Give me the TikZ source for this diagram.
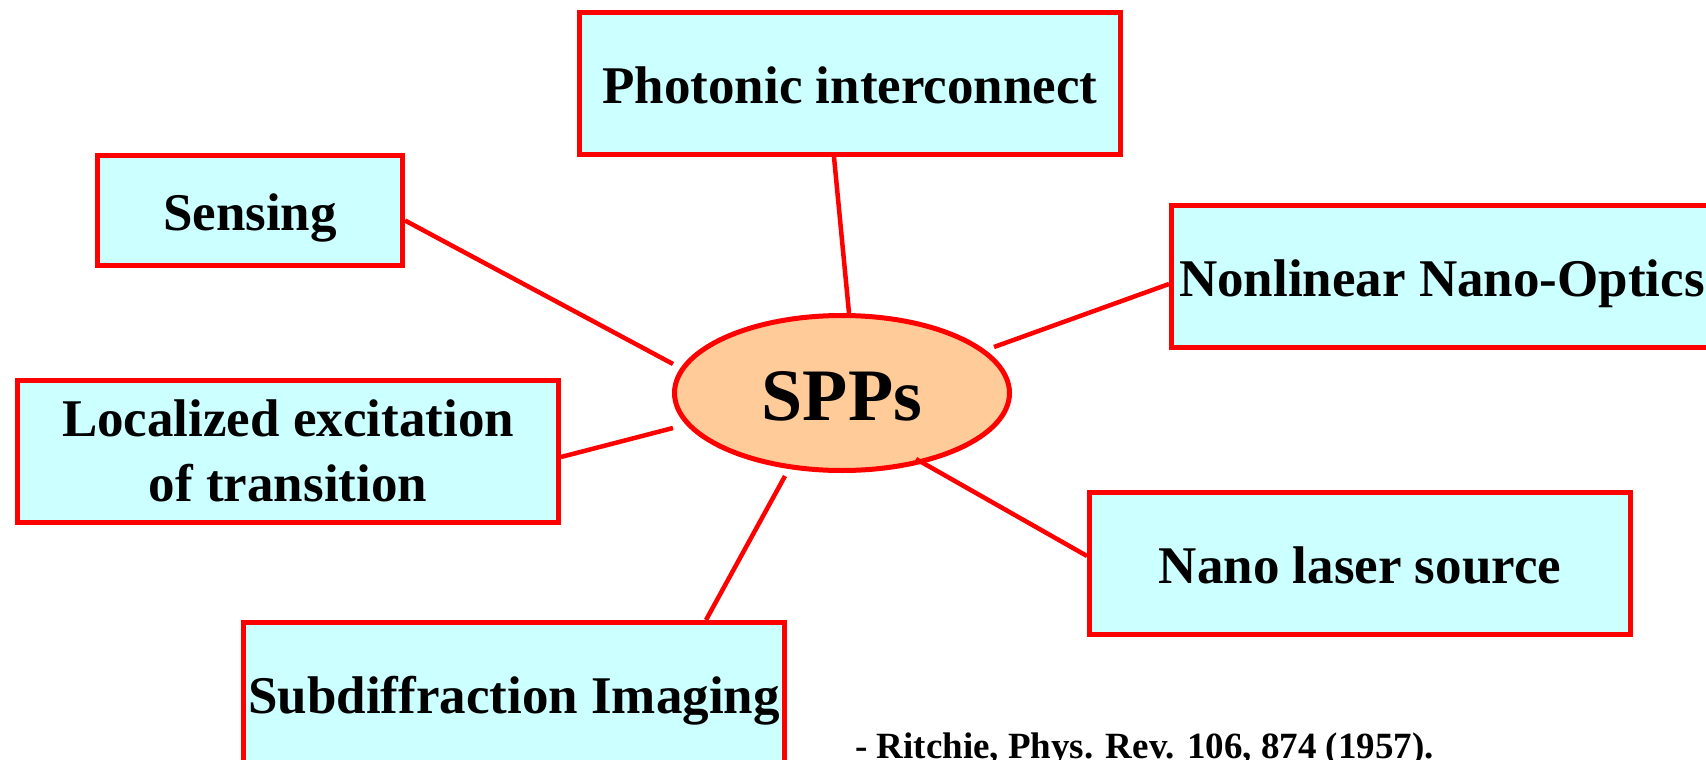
\documentclass[tikz,border=0pt]{standalone}
\usepackage{fontspec}
\setmainfont{Liberation Serif}
\usetikzlibrary{shapes.geometric,calc}
\definecolor{boxfill}{HTML}{CCFFFF}
\definecolor{ellfill}{HTML}{FFCC99}
\definecolor{lred}{HTML}{FF0000}
\tikzset{
  topic/.style={draw=lred, fill=boxfill, line width=5pt, inner sep=0pt,
    minimum width=541pt, minimum height=142pt,
    font=\fontsize{53}{65}\selectfont\bfseries},
  oneline/.style={text height=40pt, text depth=0pt},
  hub/.style={ellipse, draw=lred, fill=ellfill, line width=5pt, inner sep=0pt,
    minimum width=335pt, minimum height=155pt,
    font=\fontsize{74}{80}\selectfont\bfseries, text height=54pt, text depth=0pt},
  link/.style={draw=lred, line width=4.5pt},
}
\begin{document}
\begin{tikzpicture}[x=1pt, y=-1pt]
\useasboundingbox (0,0) rectangle (1706,760);
\clip (0,0) rectangle (1706,760);
\fill[white] (0,0) rectangle (1706,760);

\node[hub] (spp) at (842,393) {SPPs};

\node[topic, oneline] (ph) at (850,83.5) {Photonic interconnect};
\node[topic, oneline, minimum width=305pt, minimum height=110pt] (sens) at (250,210.5) {Sensing};
\node[topic, oneline] (nl) at (1442,276) {Nonlinear Nano-Optics};
\node[topic, align=center] (loc) at (288,451) {Localized excitation\\of transition};
\node[topic, oneline] (nano) at (1360,563) {Nano laser source};
\node[topic, oneline] (sub) at (514,693.5) {Subdiffraction Imaging};

\draw[link] ($(ph.south)+(-16,0)$) -- ($(spp.north)+(7,0)$);
\draw[link] ($(sens.east)+(0,10)$) -- ($(spp.center)+(-169,-29)$);
\draw[link] ($(loc.east)+(0,6)$) -- ($(spp.center)+(-169,35)$);
\draw[link] ($(nl.west)+(0,8)$) -- ($(spp.center)+(152,-46)$);
\draw[link] ($(nano.west)+(0,-7)$) -- ($(spp.center)+(74,66)$);
\draw[link] ($(sub.north)+(192,0)$) -- ($(spp.center)+(-57,83)$);

\node[anchor=base west, inner sep=0pt, font=\fontsize{37}{40}\selectfont\bfseries] (ref) at (855,758) {- Ritchie, Phys. Rev. 106, 874 (1957).};
\end{tikzpicture}
\end{document}
